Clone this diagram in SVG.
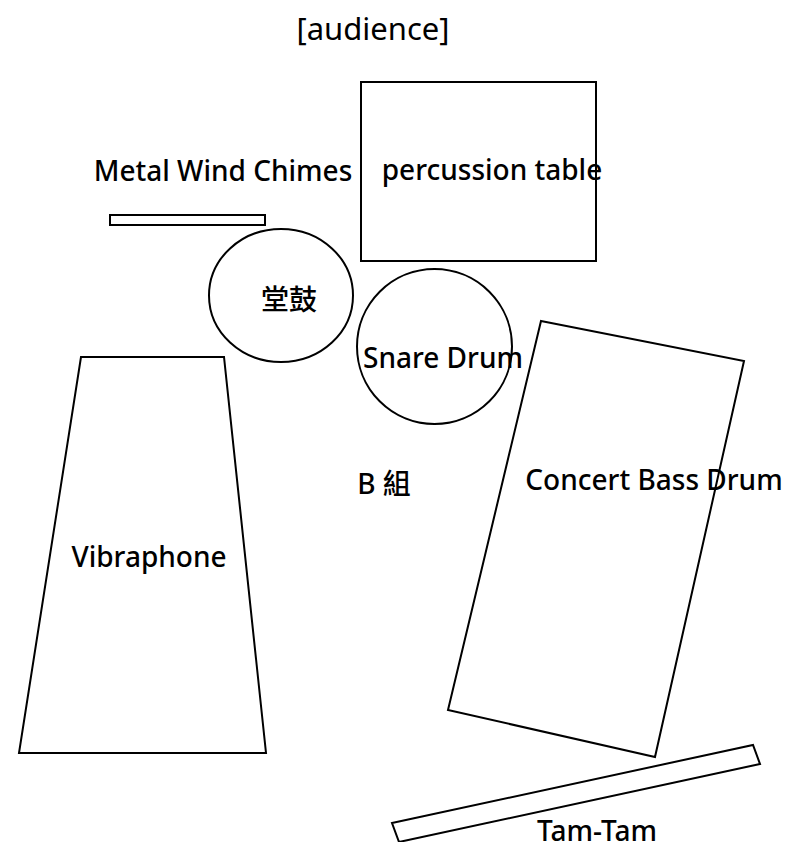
<svg xmlns="http://www.w3.org/2000/svg" width="808" height="842" viewBox="0 0 808 842">
<style>
.s{fill:#fff;stroke:#000;stroke-width:2}
.t{font-family:"Noto Sans","Open Sans","Noto Sans CJK TC",sans-serif;font-size:28px;font-weight:500;fill:#000}
.a{font-family:"Noto Sans","Open Sans",sans-serif;font-size:31px;fill:#000}
</style>
<rect width="808" height="842" fill="#fff"/>
<g id="audience"><text class="a" x="373" y="40" text-anchor="middle">[audience]</text></g>
<g id="percussion-table"><rect class="s" x="361" y="82" width="235" height="179"/><text class="t" x="492" y="180" text-anchor="middle">percussion table</text></g>
<g id="wind-chimes"><rect class="s" x="110" y="215" width="155" height="10"/><text class="t" x="223" y="181" text-anchor="middle">Metal Wind Chimes</text></g>
<g id="tanggu"><ellipse class="s" cx="281" cy="295.5" rx="72" ry="66.5"/><text class="t" x="289" y="310" text-anchor="middle">堂鼓</text></g>
<g id="snare"><circle class="s" cx="434.5" cy="346.5" r="77.5"/><text class="t" x="443" y="368" text-anchor="middle">Snare Drum</text></g>
<g id="vibraphone"><polygon class="s" points="81,357 224,357 266,753 19,753"/><text class="t" x="149" y="567" text-anchor="middle">Vibraphone</text></g>
<g id="bass-drum"><polygon class="s" points="541,321 744,361 655,757 448,710"/><text class="t" x="654" y="490" text-anchor="middle">Concert Bass Drum</text></g>
<g id="group-b"><text class="t" x="384" y="494" text-anchor="middle" font-weight="400">B 組</text></g>
<g id="tam-tam"><polygon class="s" points="392,823 753,745 760,764 399,842"/><text class="t" x="597" y="841" text-anchor="middle">Tam-Tam</text></g>
<g id="connectors"></g>
</svg>
